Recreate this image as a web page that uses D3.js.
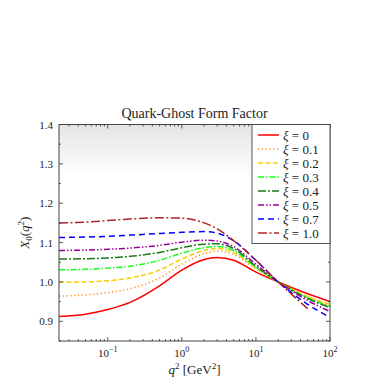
<!DOCTYPE html>
<html>
<head>
<meta charset="UTF-8" />
<title>Quark-Ghost Form Factor</title>
<script src="https://d3js.org/d3.v7.min.js"></script>
<style>
  html, body { margin: 0; padding: 0; background: #fff; }
  svg text { font-family: "Liberation Serif", "DejaVu Serif", serif; fill: #222; }
</style>
</head>
<body>
<svg id="chart" width="389" height="389"></svg>
<script>
// data
const q2 = [0.022, 0.05, 0.1, 0.2, 0.5, 1, 2, 3, 5, 10, 20, 50, 100];
const xiLabels = ['0', '0.1', '0.2', '0.3', '0.4', '0.5', '0.7', '1.0'];
const xi0  = [0.912, 0.918, 0.930, 0.948, 0.990, 1.030, 1.057, 1.062, 1.055, 1.025, 1.000, 0.970, 0.950];
const xi01 = [0.964, 0.967, 0.973, 0.983, 1.010, 1.045, 1.072, 1.078, 1.070, 1.033, 1.000, 0.962, 0.940];
const xi02 = [0.999, 1.000, 1.003, 1.010, 1.030, 1.058, 1.080, 1.085, 1.075, 1.035, 1.000, 0.963, 0.943];
const xi03 = [1.031, 1.032, 1.035, 1.040, 1.055, 1.073, 1.087, 1.090, 1.080, 1.037, 1.000, 0.960, 0.938];
const xi04 = [1.058, 1.059, 1.061, 1.065, 1.075, 1.087, 1.096, 1.097, 1.085, 1.040, 1.000, 0.958, 0.935];
const xi05 = [1.080, 1.081, 1.083, 1.086, 1.093, 1.101, 1.106, 1.104, 1.090, 1.045, 1.000, 0.953, 0.925];
const xi07 = [1.113, 1.114, 1.116, 1.119, 1.123, 1.126, 1.128, 1.124, 1.105, 1.055, 1.000, 0.943, 0.910];
const xi10 = [1.150, 1.152, 1.156, 1.160, 1.163, 1.162, 1.150, 1.135, 1.105, 1.055, 1.000, 0.932, null];
const yTicks = [0.9, 1.0, 1.1, 1.2, 1.3, 1.4];
const xTicks = [0.1, 1, 10, 100];

const series = [xi0, xi01, xi02, xi03, xi04, xi05, xi07, xi10];
const colors = ['#ff0000', '#ff8c1a', '#ffcc00', '#1aff1a', '#1a7a1a', '#990099', '#0000ff', '#b22222'];
const dashes = [null, '1.2,2.6', '5,2.5', '6,2,1.5,2', '8,2,2,2', '6,2,1.5,2,1.5,2', '6,4', '9,2.5,2,2.5'];

const svg = d3.select('#chart');
const m = { left: 59, right: 330, top: 124.5, bottom: 341 };

const x = d3.scaleLog().domain([0.022, 100]).range([m.left, m.right]);
const y = d3.scaleLinear().domain([0.85, 1.4]).range([m.bottom, m.top]);

// background gradient at top of plot
const defs = svg.append('defs');
const grad = defs.append('linearGradient').attr('id', 'bg')
  .attr('x1', 0).attr('x2', 0).attr('y1', 0).attr('y2', 1);
grad.append('stop').attr('offset', 0).attr('stop-color', '#e4e4e4');
grad.append('stop').attr('offset', 0.24).attr('stop-color', '#ffffff');
grad.append('stop').attr('offset', 1).attr('stop-color', '#ffffff');
defs.append('clipPath').attr('id', 'clip').append('rect')
  .attr('x', m.left).attr('y', m.top).attr('width', m.right - m.left).attr('height', m.bottom - m.top);

svg.append('rect')
  .attr('x', m.left).attr('y', m.top)
  .attr('width', m.right - m.left).attr('height', m.bottom - m.top)
  .attr('fill', 'url(#bg)');

// curves
const line = d3.line()
  .defined(d => d[1] != null)
  .x(d => x(d[0])).y(d => y(d[1]))
  .curve(d3.curveMonotoneX);

const plot = svg.append('g').attr('clip-path', 'url(#clip)');
series.forEach((s, i) => {
  plot.append('path')
    .datum(q2.map((q, j) => [q, s[j]]))
    .attr('d', line)
    .attr('fill', 'none')
    .attr('stroke', colors[i])
    .attr('stroke-width', 1.5)
    .attr('stroke-dasharray', dashes[i]);
});

// ticks (inside, all sides)
const minorX = [];
for (let e = -2; e < 2; e++) for (let k = 2; k <= 9; k++) {
  const v = k * Math.pow(10, e);
  if (v >= 0.022 && v <= 100) minorX.push(v);
}
const minorY = d3.range(0.85, 1.4001, 0.05).filter(v => !yTicks.some(t => Math.abs(t - v) < 1e-6));
const tk = svg.append('g').attr('stroke', '#333').attr('stroke-width', 0.8);
xTicks.forEach(v => {
  tk.append('line').attr('x1', x(v)).attr('x2', x(v)).attr('y1', m.bottom).attr('y2', m.bottom - 4);
  tk.append('line').attr('x1', x(v)).attr('x2', x(v)).attr('y1', m.top).attr('y2', m.top + 4);
});
minorX.forEach(v => {
  tk.append('line').attr('x1', x(v)).attr('x2', x(v)).attr('y1', m.bottom).attr('y2', m.bottom - 2);
  tk.append('line').attr('x1', x(v)).attr('x2', x(v)).attr('y1', m.top).attr('y2', m.top + 2);
});
yTicks.forEach(v => {
  tk.append('line').attr('x1', m.left).attr('x2', m.left + 4).attr('y1', y(v)).attr('y2', y(v));
  tk.append('line').attr('x1', m.right).attr('x2', m.right - 4).attr('y1', y(v)).attr('y2', y(v));
});
minorY.forEach(v => {
  tk.append('line').attr('x1', m.left).attr('x2', m.left + 2).attr('y1', y(v)).attr('y2', y(v));
  tk.append('line').attr('x1', m.right).attr('x2', m.right - 2).attr('y1', y(v)).attr('y2', y(v));
});

// frame
svg.append('rect')
  .attr('x', m.left).attr('y', m.top)
  .attr('width', m.right - m.left).attr('height', m.bottom - m.top)
  .attr('fill', 'none').attr('stroke', '#444').attr('stroke-width', 1);

// tick labels
svg.append('g').selectAll('text').data(yTicks).join('text')
  .attr('x', m.left - 6).attr('y', d => y(d) + 4)
  .attr('text-anchor', 'end').attr('font-size', 11)
  .text(d => d.toFixed(1));

const xl = svg.append('g').selectAll('text').data(xTicks).join('text')
  .attr('x', d => x(d)).attr('y', m.bottom + 16)
  .attr('text-anchor', 'middle').attr('font-size', 11);
xl.append('tspan').text('10');
xl.append('tspan').attr('dy', -5).attr('font-size', 8)
  .text(d => { const e = Math.round(Math.log10(d)); return e < 0 ? '\u2212' + (-e) : String(e); });

// title and axis labels
svg.append('text')
  .attr('x', (m.left + m.right) / 2).attr('y', m.top - 7)
  .attr('text-anchor', 'middle').attr('font-size', 14)
  .text('Quark-Ghost Form Factor');

const xt = svg.append('text')
  .attr('x', (m.left + m.right) / 2).attr('y', m.bottom + 33)
  .attr('text-anchor', 'middle').attr('font-size', 13);
xt.append('tspan').attr('font-style', 'italic').text('q');
xt.append('tspan').attr('dy', -5).attr('font-size', 9).text('2');
xt.append('tspan').attr('dy', 5).text(' [GeV');
xt.append('tspan').attr('dy', -5).attr('font-size', 9).text('2');
xt.append('tspan').attr('dy', 5).text(']');

const yt = svg.append('text')
  .attr('transform', `translate(29,${(m.top + m.bottom) / 2}) rotate(-90)`)
  .attr('text-anchor', 'middle').attr('font-size', 13);
yt.append('tspan').attr('font-style', 'italic').text('X');
yt.append('tspan').attr('dy', 3).attr('font-size', 9).text('0');
yt.append('tspan').attr('dy', -3).text('(');
yt.append('tspan').attr('font-style', 'italic').text('q');
yt.append('tspan').attr('dy', -5).attr('font-size', 9).text('2');
yt.append('tspan').attr('dy', 5).text(')');

// legend
const lg = svg.append('g');
const lx = 252, ly = m.top, lw = m.right - 252, lh = 119;
lg.append('rect').attr('x', lx).attr('y', ly).attr('width', lw).attr('height', lh)
  .attr('fill', '#fff').attr('stroke', '#444').attr('stroke-width', 0.9);
xiLabels.forEach((lab, i) => {
  const yy = ly + 10.5 + i * 14;
  lg.append('line').attr('x1', lx + 6).attr('x2', lx + 27).attr('y1', yy).attr('y2', yy)
    .attr('stroke', colors[i]).attr('stroke-width', 1.5).attr('stroke-dasharray', dashes[i]);
  const t = lg.append('text').attr('x', lx + 31).attr('y', yy + 4.5).attr('font-size', 13);
  t.append('tspan').attr('font-style', 'italic').text('\u03be');
  t.append('tspan').text(' = ' + lab);
});
</script>
</body>
</html>
